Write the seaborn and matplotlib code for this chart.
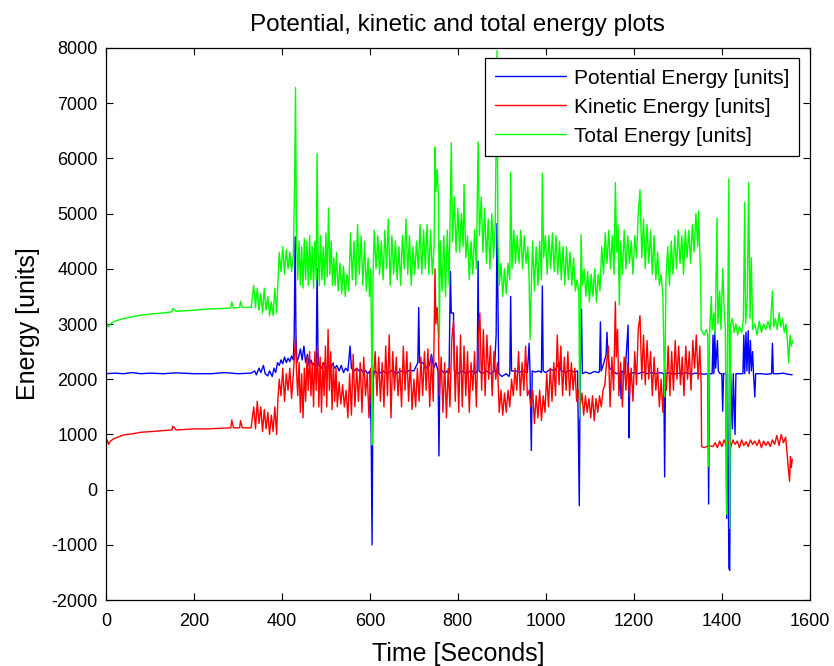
import matplotlib
matplotlib.use("Agg")
import matplotlib.pyplot as plt
import seaborn as sns

# ---------------- data ----------------
pot_time = (
    [0, 20, 40, 60, 80, 100, 130, 160, 200, 240, 270, 300, 330]
    + [338, 342, 348, 352, 358, 362, 368, 372, 378, 382, 386, 390]
    + [394, 398, 402, 406, 410, 414, 418, 422, 426]
    + [428, 430, 432, 434, 438, 442, 446, 450, 454, 458, 462, 466, 470, 474, 478]
    + [480, 482, 484, 490, 495, 500, 505, 510, 515, 520, 525]
    + [530, 535, 540, 545, 550, 555, 558, 565, 570, 575, 580, 585, 590, 595, 600]
    + [603, 605, 607, 610, 620, 630, 640, 650, 660, 670, 680, 690, 700, 706, 709, 711, 713, 720, 725, 730]
    + [735, 740, 745, 750, 755, 757, 759, 765, 770, 775, 780, 783, 785, 790, 792, 800]
    + [810, 820, 830, 840, 844, 846, 848, 855, 865, 875, 883, 887, 889, 891, 893, 900, 910, 916, 918, 920, 922, 930]
    + [940, 950, 958, 962, 964, 967, 969, 975, 985, 990, 992, 994, 1000, 1010, 1020, 1030, 1035, 1045, 1055, 1065, 1072, 1076, 1078, 1081, 1083]
    + [1090, 1100, 1110, 1120, 1122, 1124, 1126, 1132, 1137, 1139, 1141, 1145, 1152, 1160, 1169, 1171, 1173, 1180, 1187, 1189, 1191]
    + [1200, 1210, 1220, 1230, 1240, 1250, 1260, 1268, 1270, 1272, 1280, 1290, 1300, 1310, 1320, 1330, 1340]
    + [1350, 1360, 1368, 1370, 1372, 1378, 1380, 1382, 1384, 1386, 1390, 1392, 1396, 1400, 1402, 1404, 1409, 1411, 1413]
    + [1416, 1418, 1420, 1424, 1426, 1430, 1432, 1440, 1448, 1450, 1452, 1455, 1457, 1460, 1462, 1465, 1467, 1470, 1472, 1475, 1477]
    + [1490, 1500, 1513, 1515, 1517, 1530, 1540, 1550, 1560]
)
pot_energy = (
    [2100, 2110, 2100, 2120, 2100, 2110, 2100, 2115, 2100, 2100, 2120, 2100, 2110]
    + [2150, 2080, 2200, 2120, 2250, 2100, 2060, 2150, 2050, 2200, 2120, 2300]
    + [2250, 2350, 2280, 2400, 2300, 2380, 2320, 2420, 2350]
    + [2800, 4580, 2800, 2300, 2400, 2550, 2350, 2600, 2300, 2450, 2250, 2350, 2250, 2300, 2250]
    + [4010, 2500, 2250, 2200, 2300, 2200, 2250, 2180, 2280, 2200, 2250]
    + [2150, 2250, 2120, 2200, 2150, 2600, 2200, 2150, 2200, 2150, 2180, 2120, 2160, 2100, 2150]
    + [970, -1000, 2000, 2150, 2100, 2150, 2100, 2160, 2100, 2150, 2120, 2160, 2150, 2250, 2300, 3300, 2300, 2300, 2250, 2200]
    + [2250, 2450, 2200, 2300, 2150, 610, 2100, 2150, 2100, 2150, 2100, 3950, 3200, 3200, 2150, 2100]
    + [2150, 2100, 2160, 2100, 2150, 4140, 2150, 2100, 2150, 2100, 2150, 2800, 4820, 3500, 2100, 2050, 2100, 2050, 2100, 3500, 2150, 2150]
    + [2130, 2150, 2120, 2650, 2150, 710, 2150, 2130, 2150, 2120, 3690, 2150, 2120, 2180, 2150, 2300, 2150, 2120, 2160, 2130, 2150, -290, 2100, 3270, 2100]
    + [2130, 2100, 2140, 2120, 2150, 3040, 2150, 2300, 2450, 2850, 2400, 2200, 2150, 2100, 2120, 1650, 2150, 2100, 2980, 940, 2100]
    + [2120, 2100, 2130, 2100, 2120, 2100, 2120, 2100, 230, 2100, 2120, 2090, 2110, 2100, 2120, 2090, 2110]
    + [2100, 2090, 2100, -260, 2100, 2100, 2800, 2100, 2850, 2200, 2700, 2150, 2100, 2100, 1420, 2100, 2100, -520, 2100]
    + [-1420, -1460, 2100, 1100, 2100, 1000, 2100, 2100, 2100, 2800, 2100, 2850, 2150, 2880, 2100, 2700, 2150, 2500, 2100, 1680, 2100]
    + [2100, 2090, 2100, 2650, 2100, 2100, 2110, 2090, 2080]
)

kin_time = (
    [0, 3, 6, 10, 20, 40, 60, 80, 100, 130, 150, 152, 160, 200, 230, 260, 284, 286, 290, 304, 306, 310, 330]
    + [336, 340, 344, 348, 352, 356, 360, 364, 368, 372, 376, 380, 384, 388, 391]
    + [394, 398, 402, 406, 410, 414, 418, 422, 426]
    + [429, 431, 433, 436, 439, 442, 445, 448, 451, 454, 457, 460, 463, 466, 469, 472, 475, 478]
    + [481, 484, 487, 490, 493, 496, 499, 502, 505, 508, 511, 514, 517, 520, 523]
    + [526, 530, 534, 538, 542, 546, 550, 554, 558, 562, 566, 570, 574, 578, 582, 586, 590, 594, 598, 602]
    + [605, 608, 612, 616, 620, 624, 628, 632, 636, 640, 644, 648, 652, 656, 660, 664, 668]
    + [672, 676, 680, 684, 688, 692, 696, 700, 704, 708, 712, 716, 720, 724, 728]
    + [732, 736, 740, 744, 748, 750, 753, 756, 758, 762, 766, 770, 774, 778, 782, 786, 790, 794, 798]
    + [802, 806, 810, 814, 818, 822, 826, 830, 834, 838, 842, 846, 850, 854, 858, 862, 866, 870]
    + [874, 878, 882, 886, 890, 894, 898, 902, 906, 910, 914, 918, 922, 926, 930, 934]
    + [938, 942, 946, 950, 954, 958, 962, 966, 970, 974, 978, 982, 986, 990, 994, 998]
    + [1002, 1006, 1010, 1014, 1018, 1022, 1026, 1030, 1034, 1038, 1042, 1046, 1050, 1054, 1058, 1062, 1066, 1070]
    + [1074, 1078, 1082, 1086, 1090, 1094, 1098, 1102, 1106, 1110, 1114, 1118, 1122, 1126, 1130, 1134, 1138, 1142]
    + [1146, 1150, 1154, 1158, 1160, 1163, 1166, 1170, 1174, 1178, 1182, 1186, 1190, 1194, 1198]
    + [1202, 1206, 1210, 1214, 1218, 1222, 1226, 1230, 1234, 1238, 1242, 1246, 1250, 1254, 1258, 1262, 1266, 1270]
    + [1274, 1278, 1282, 1286, 1290, 1294, 1298, 1302, 1306, 1310, 1314, 1318, 1322, 1326, 1330, 1334, 1338, 1342, 1346, 1350, 1353, 1354]
    + [1360, 1370, 1380, 1385, 1390, 1395, 1400, 1405, 1410, 1415, 1420, 1425, 1430, 1435, 1440, 1445, 1450, 1455, 1460, 1465]
    + [1470, 1475, 1480, 1485, 1490, 1495, 1500, 1505, 1510, 1515, 1520, 1525, 1530, 1535, 1540, 1545, 1548, 1551, 1554, 1556, 1558, 1560]
)
kin_energy = (
    [800, 900, 820, 880, 930, 990, 1010, 1040, 1050, 1070, 1080, 1150, 1080, 1100, 1100, 1110, 1120, 1260, 1120, 1120, 1250, 1120, 1120]
    + [1500, 1100, 1600, 1200, 1500, 1050, 1450, 1100, 1400, 1000, 1350, 1050, 1500, 1000, 1650]
    + [2000, 1700, 2200, 1600, 2100, 1800, 2200, 1650, 2100]
    + [2500, 2750, 2200, 1700, 2300, 1400, 2100, 1300, 2200, 1600, 2400, 1800, 2500, 1700, 2300, 1500, 2500, 1800]
    + [2600, 1500, 2400, 1400, 2300, 1700, 2600, 1500, 2900, 1800, 2500, 1450, 2300, 1600, 2200]
    + [1500, 1950, 1550, 1900, 1500, 1800, 1300, 2100, 1350, 2450, 1500, 2200, 1600, 2300, 1400, 2400, 1700, 2100, 1300, 2200]
    + [1300, 2000, 2500, 1700, 2400, 1600, 2300, 1500, 2600, 1700, 2800, 1300, 2500, 1800, 2400, 1700, 2200]
    + [1500, 2600, 1800, 2500, 1600, 2300, 1450, 2000, 1500, 2200, 1600, 2400, 1700, 2500, 1800]
    + [2550, 1500, 2400, 1600, 4000, 3000, 3300, 2800, 1700, 2400, 1400, 2300, 1300, 2200, 1500, 2700, 3050, 1600, 2600]
    + [1400, 2800, 1500, 2600, 1700, 2500, 1400, 2300, 1800, 2500, 1500, 2700, 3200, 1800, 2900, 1700, 2800, 2000]
    + [2600, 1700, 2500, 2000, 2300, 1400, 1800, 1350, 1750, 1400, 1800, 1500, 2000, 1700, 2200, 1800]
    + [2500, 1700, 2300, 1800, 2600, 1700, 1800, 1500, 1800, 1200, 1700, 1300, 1800, 1250, 1700, 1400]
    + [2100, 1500, 2200, 1600, 2300, 1700, 2800, 1900, 2600, 1700, 2400, 1800, 2500, 1700, 2300, 1800, 2200, 1600]
    + [1800, 1500, 1750, 1350, 1700, 1400, 1650, 1300, 1700, 1250, 1650, 1400, 1700, 1500, 1800, 1900, 2300, 2600]
    + [1500, 2400, 1800, 3400, 2400, 2900, 1700, 2300, 1500, 2400, 1800, 2300, 1700, 2200, 1600]
    + [2500, 1900, 2900, 3150, 2000, 2800, 1900, 2700, 2000, 2500, 1700, 2400, 1800, 2200, 1500, 2000, 1400, 2200]
    + [1800, 2600, 1700, 2500, 1800, 2700, 2000, 2600, 1900, 2400, 1700, 2600, 2000, 2500, 1800, 2700, 2200, 2800, 2000, 2600, 1900, 780]
    + [760, 800, 780, 850, 760, 880, 780, 900, 800, 870, 760, 900, 820, 880, 760, 900, 800, 870, 780, 900]
    + [820, 880, 800, 900, 760, 880, 800, 870, 780, 900, 820, 980, 800, 1000, 850, 950, 700, 400, 150, 600, 400, 550]
)

tot_time = (
    [0, 3, 6, 10, 20, 40, 60, 80, 100, 130, 150, 152, 160, 200, 230, 260, 284, 286, 290, 304, 306, 310, 330]
    + [336, 340, 344, 348, 352, 356, 360, 364, 368, 372, 376, 380, 384, 388, 391]
    + [394, 398, 402, 406, 410, 414, 418, 422, 426]
    + [429, 431, 433, 436, 439, 442, 445, 448, 451, 454, 457, 460, 463, 466, 469, 472, 475, 478]
    + [480, 482, 485, 488, 491, 494, 497, 500, 503, 506, 509, 512, 515, 518, 521, 524]
    + [528, 532, 536, 540, 544, 548, 552, 556, 560, 564, 568, 572, 576, 580, 584, 588, 592, 596, 599, 602]
    + [604, 605, 607, 610, 614, 618, 622, 626, 630, 634, 638, 642, 646, 650, 654, 658, 662, 666]
    + [670, 674, 678, 682, 686, 690, 694, 698, 702, 706, 710, 714, 718, 722, 726]
    + [730, 734, 738, 742, 746, 748, 750, 753, 756, 758, 760, 764, 768, 772, 776, 780, 785, 788]
    + [792, 796, 800, 804, 808, 812, 814, 818, 822, 826, 830, 834, 838, 842, 846, 849]
    + [853, 857, 861, 865, 869, 873, 877, 881, 885, 889, 891, 894, 898, 902, 906, 910, 914, 918, 920, 923, 927, 931, 935]
    + [939, 943, 947, 951, 955, 959, 962, 964, 967, 970, 974, 978, 982, 986, 990, 992, 995, 999]
    + [1003, 1007, 1011, 1015, 1019, 1023, 1027, 1031, 1035, 1039, 1043, 1047, 1051, 1055, 1059, 1063, 1067, 1071, 1075]
    + [1077, 1080, 1083, 1087, 1091, 1095, 1099, 1103, 1107, 1111, 1115, 1119, 1123, 1127, 1131, 1135, 1139]
    + [1143, 1147, 1151, 1155, 1158, 1161, 1164, 1167, 1170, 1174, 1178, 1182, 1186, 1190, 1194, 1198]
    + [1202, 1206, 1210, 1214, 1218, 1222, 1226, 1230, 1234, 1238, 1242, 1246, 1250, 1254, 1258, 1262, 1266, 1270]
    + [1273, 1277, 1281, 1285, 1289, 1293, 1297, 1301, 1305, 1309, 1313, 1317, 1321, 1325, 1329, 1333, 1337, 1341, 1345, 1347, 1350, 1352, 1353]
    + [1360, 1365, 1368, 1370, 1372, 1376, 1378, 1382, 1385, 1389, 1391, 1395, 1398, 1402, 1405, 1408, 1411, 1413, 1416, 1418, 1420]
    + [1424, 1428, 1432, 1436, 1440, 1445, 1449, 1452, 1454, 1458, 1461, 1464, 1467, 1470, 1475, 1480, 1485, 1490, 1495, 1500]
    + [1505, 1510, 1515, 1518, 1522, 1526, 1530, 1534, 1538, 1542, 1546, 1549, 1552, 1555, 1558, 1561]
)
tot_energy = (
    [2900, 3000, 2950, 3000, 3050, 3100, 3130, 3160, 3180, 3200, 3220, 3280, 3230, 3250, 3270, 3280, 3290, 3400, 3290, 3300, 3410, 3300, 3300]
    + [3700, 3300, 3650, 3250, 3550, 3200, 3650, 3250, 3500, 3150, 3400, 3150, 3650, 3200, 3750]
    + [4300, 3950, 4400, 3900, 4350, 4000, 4300, 3950, 4250]
    + [5600, 7280, 4600, 3800, 4500, 3700, 4400, 3650, 4550, 3800, 4500, 3700, 4600, 3800, 4400, 3650, 4500, 3800]
    + [6090, 4400, 3700, 4600, 3800, 4400, 3700, 4650, 3850, 5100, 3900, 4500, 3700, 4200, 3700, 4300]
    + [3600, 4100, 3550, 4050, 3500, 3900, 3600, 4650, 3800, 4500, 3700, 4800, 3900, 4600, 3700, 4500, 3600, 4200, 3500, 4000]
    + [2500, 810, 3800, 4700, 4000, 4600, 3900, 4500, 3800, 4700, 4000, 4900, 3700, 4600, 3900, 4500, 3800, 4400]
    + [3700, 4600, 4000, 4900, 3900, 4600, 3700, 4400, 3900, 4500, 4000, 4800, 3900, 4700, 4000]
    + [4800, 3900, 4700, 3900, 4400, 6200, 5400, 5800, 5250, 2750, 4500, 3600, 4600, 3500, 4700, 3700, 6280, 4500]
    + [5300, 4300, 5100, 4300, 5000, 4400, 5530, 4200, 4600, 3800, 4500, 3900, 4700, 4000, 6300, 4600]
    + [5300, 4300, 5100, 4100, 4900, 4000, 5000, 4200, 4800, 7950, 4500, 3700, 4100, 3500, 4000, 3550, 4100, 3800, 5750, 4000, 4700, 4100, 4600]
    + [4100, 4700, 4000, 4600, 4100, 4400, 3800, 2720, 3700, 4500, 3600, 4400, 3700, 4500, 3800, 5730, 4200, 4600]
    + [3900, 4600, 4000, 4650, 3950, 4600, 3900, 4500, 3800, 4400, 3700, 4400, 3800, 4300, 3700, 4200, 3600, 3800, 3550]
    + [1300, 4620, 3700, 4000, 3500, 3950, 3400, 3900, 3500, 4000, 3400, 3900, 3600, 4400, 3900, 4650, 4100]
    + [4700, 4000, 4600, 3900, 5560, 4300, 4800, 3350, 4500, 3900, 4700, 4000, 4600, 4100, 4500, 3900]
    + [4600, 4200, 5000, 5430, 4200, 4900, 4000, 4800, 4100, 4700, 3900, 4600, 3800, 4300, 3700, 3900, 3500, 1680]
    + [3800, 4400, 3700, 4500, 3900, 4600, 4000, 4700, 4100, 4600, 3900, 4700, 4200, 4700, 4100, 4800, 4300, 5000, 4400, 5050, 4300, 3800, 2900]
    + [2800, 2900, 2800, 420, 2800, 3500, 2900, 3200, 2800, 4920, 3000, 3600, 2900, 4000, 3300, 2900, -450, 2800, 5630, -700, 3000]
    + [3100, 2850, 3000, 2800, 2950, 2850, 3100, 5200, 3000, 3500, 5560, 3100, 4200, 2900, 3000, 2800, 3050, 2850, 3000, 2900]
    + [3050, 2900, 3600, 2950, 3100, 2900, 3200, 2950, 3100, 2850, 3000, 2700, 2300, 2800, 2600, 2700]
)

series_labels = ["Potential Energy [units]", "Kinetic Energy [units]", "Total Energy [units]"]
series_colors = ["#0000FF", "#FF0000", "#00FF00"]
x_ticks = [0, 200, 400, 600, 800, 1000, 1200, 1400, 1600]
y_ticks = [-2000, -1000, 0, 1000, 2000, 3000, 4000, 5000, 6000, 7000, 8000]

# ---------------- style ----------------
sns.set_theme(style="white")
plt.rcParams["font.family"] = ["Liberation Sans", "DejaVu Sans"]
plt.rcParams["text.color"] = "black"
plt.rcParams["axes.labelcolor"] = "black"
plt.rcParams["xtick.color"] = "black"
plt.rcParams["ytick.color"] = "black"
plt.rcParams["axes.unicode_minus"] = False

fig = plt.figure(figsize=(8.34, 6.66), dpi=100)
ax = fig.add_axes([0.127, 0.099, 0.844, 0.829])

for t, e, lab, col in zip([pot_time, kin_time, tot_time],
                          [pot_energy, kin_energy, tot_energy],
                          series_labels, series_colors):
    sns.lineplot(x=t, y=e, ax=ax, color=col, label=lab, linewidth=1.0,
                 estimator=None, sort=False)

ax.set_xlim(0, 1600)
ax.set_ylim(-2000, 8000)
ax.set_xticks(x_ticks)
ax.set_yticks(y_ticks)
ax.tick_params(direction="in", length=5, width=0.8, top=True, right=True,
               bottom=True, left=True, labelsize=13, colors="black")
ax.tick_params(axis="x", pad=9)
ax.tick_params(axis="y", pad=6)
for s in ax.spines.values():
    s.set_color("black")
    s.set_linewidth(0.9)

ax.set_title("Potential, kinetic and total energy plots", fontsize=17.5, pad=12,
             color="black")
ax.set_xlabel("Time [Seconds]", fontsize=18, labelpad=9)
ax.set_ylabel("Energy [units]", fontsize=18, labelpad=8)

leg = ax.legend(loc="upper right", fontsize=15, frameon=True, fancybox=False,
                edgecolor="black", framealpha=1, handlelength=3.4,
                borderaxespad=0.5, borderpad=0.5, labelspacing=0.48,
                handletextpad=0.35)
leg.get_frame().set_linewidth(0.9)
for txt in leg.get_texts():
    txt.set_color("black")

fig.savefig("out.png", dpi=100)
